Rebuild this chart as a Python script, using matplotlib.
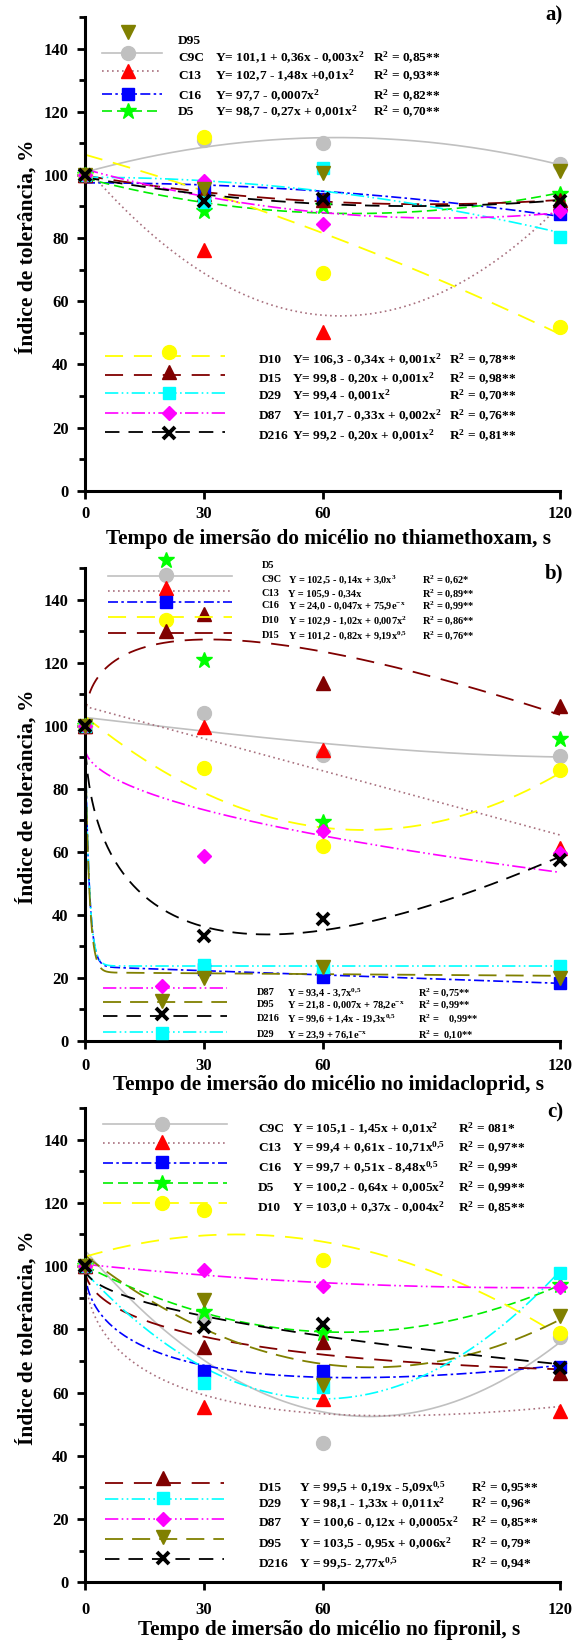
import numpy as np
import matplotlib
matplotlib.use('Agg')
import matplotlib.pyplot as plt
from matplotlib.lines import Line2D
from matplotlib.ticker import MultipleLocator

plt.rcParams['font.family'] = ['Liberation Serif', 'DejaVu Serif']
plt.rcParams['font.weight'] = 'bold'
plt.rcParams['mathtext.fontset'] = 'custom'
plt.rcParams['mathtext.rm'] = 'Liberation Serif:bold'
plt.rcParams['mathtext.it'] = 'Liberation Serif:bold'
plt.rcParams['mathtext.bf'] = 'Liberation Serif:bold'
plt.rcParams['mathtext.default'] = 'rm'

# ---------------- data ----------------
times = [0, 30, 60, 120]

# a) thiamethoxam
a_C9C = [100, 111.0, 110.1, 103.5]
a_C13 = [100, 76.1, 50.2, 91.2]
a_C16 = [100, 96.0, 92.5, 87.5]
a_D5 = [100, 88.5, 90.0, 94.0]
a_D10 = [100, 112.0, 68.8, 51.7]
a_D15 = [100, 94.0, 92.0, 92.0]
a_D29 = [100, 91.5, 102.2, 80.3]
a_D87 = [100, 98.0, 84.5, 88.6]
a_D95 = [100, 95.4, 100.6, 101.2]
a_D216 = [100, 91.7, 92.4, 91.7]

# b) imidacloprid
b_C9C = [100, 104.1, 90.7, 90.4]
b_C13 = [100, 99.7, 92.1, 61.1]
b_C16 = [100, 22.6, 20.3, 18.4]
b_D5 = [100, 120.9, 69.5, 95.8]
b_D10 = [100, 86.5, 61.8, 85.9]
b_D15 = [100, 135.5, 113.6, 106.3]
b_D29 = [100, 24.0, 23.5, 23.6]
b_D87 = [100, 58.6, 66.7, 59.6]
b_D95 = [100, 19.8, 23.5, 19.8]
b_D216 = [100, 33.3, 38.5, 57.4]

# c) fipronil
c_C9C = [100, 83.6, 43.9, 77.6]
c_C13 = [100, 55.3, 58.1, 54.2]
c_C16 = [100, 66.9, 66.9, 68.0]
c_D5 = [100, 85.5, 79.0, 94.0]
c_D10 = [100, 117.6, 101.8, 78.9]
c_D15 = [100, 74.4, 76.0, 66.2]
c_D29 = [100, 62.9, 61.8, 97.8]
c_D87 = [100, 98.7, 93.6, 93.4]
c_D95 = [100, 89.2, 62.3, 84.2]
c_D216 = [100, 80.8, 81.8, 67.9]

# regression model terms per isolate (None = markers only)
a_models = {'C9C': ('1', 'x', 'x2'), 'C13': ('1', 'x', 'x2'), 'C16': ('1', 'x2'),
            'D5': ('1', 'x', 'x2'), 'D10': ('1', 'x', 'x2'), 'D15': ('1', 'x', 'x2'),
            'D29': ('1', 'x2'), 'D87': ('1', 'x', 'x2'), 'D95': None,
            'D216': ('1', 'x', 'x2')}
b_models = {'C9C': ('1', 'x', 'x3'), 'C13': ('1', 'x'), 'C16': ('1', 'x', 'exp'),
            'D5': None, 'D10': ('1', 'x', 'x2'), 'D15': ('1', 'x', 'sqrt'),
            'D29': ('1', 'exp'), 'D87': ('1', 'sqrt'), 'D95': ('1', 'x', 'exp'),
            'D216': ('1', 'x', 'sqrt')}
c_models = {'C9C': ('1', 'x', 'x2'), 'C13': ('1', 'x', 'sqrt'), 'C16': ('1', 'x', 'sqrt'),
            'D5': ('1', 'x', 'x2'), 'D10': ('1', 'x', 'x2'), 'D15': ('1', 'x', 'sqrt'),
            'D29': ('1', 'x', 'x2'), 'D87': ('1', 'x', 'x2'), 'D95': ('1', 'x', 'x2'),
            'D216': ('1', 'sqrt')}

isolates = ['C9C', 'C13', 'C16', 'D5', 'D10', 'D15', 'D29', 'D87', 'D95', 'D216']
a_vals = dict(zip(isolates, [a_C9C, a_C13, a_C16, a_D5, a_D10, a_D15, a_D29, a_D87, a_D95, a_D216]))
b_vals = dict(zip(isolates, [b_C9C, b_C13, b_C16, b_D5, b_D10, b_D15, b_D29, b_D87, b_D95, b_D216]))
c_vals = dict(zip(isolates, [c_C9C, c_C13, c_C16, c_D5, c_D10, c_D15, c_D29, c_D87, c_D95, c_D216]))

# legend texts
a_leg_top = [('D95', '', ''),
             ('C9C', 'Y= 101,1 + 0,36x - 0,003x$^2$', 'R$^2$ = 0,85**'),
             ('C13', 'Y= 102,7 - 1,48x +0,01x$^2$', 'R$^2$ = 0,93**'),
             ('C16', 'Y= 97,7 - 0,0007x$^2$', 'R$^2$ = 0,82**'),
             ('D5', 'Y= 98,7 - 0,27x + 0,001x$^2$', 'R$^2$ = 0,70**')]
a_leg_bot = [('D10', 'Y= 106,3 - 0,34x + 0,001x$^2$', 'R$^2$ = 0,78**'),
             ('D15', 'Y= 99,8 - 0,20x + 0,001x$^2$', 'R$^2$ = 0,98**'),
             ('D29', 'Y= 99,4 - 0,001x$^2$', 'R$^2$ = 0,70**'),
             ('D87', 'Y= 101,7 - 0,33x + 0,002x$^2$', 'R$^2$ = 0,76**'),
             ('D216', 'Y= 99,2 - 0,20x + 0,001x$^2$', 'R$^2$ = 0,81**')]
b_leg_top = [('D5', '', ''),
             ('C9C', 'Y = 102,5 - 0,14x + 3,0x$^3$', 'R$^2$ = 0,62*'),
             ('C13', 'Y = 105,9 - 0,34x', 'R$^2$ = 0,89**'),
             ('C16', 'Y = 24,0 - 0,047x + 75,9e$^{-x}$', 'R$^2$ = 0,99**'),
             ('D10', 'Y = 102,9 - 1,02x + 0,007x$^2$', 'R$^2$ = 0,86**'),
             ('D15', 'Y = 101,2 - 0,82x + 9,19x$^{0{,}5}$', 'R$^2$ = 0,76**')]
b_leg_bot = [('D87', 'Y = 93,4 - 3,7x$^{0{,}5}$', 'R$^2$ = 0,75**'),
             ('D95', 'Y = 21,8 - 0,007x + 78,2e$^{-x}$', 'R$^2$ = 0,99**'),
             ('D216', 'Y = 99,6 + 1,4x - 19,3x$^{0{,}5}$', 'R$^2$ =    0,99**'),
             ('D29', 'Y = 23,9 + 76,1e$^{-x}$', 'R$^2$ =  0,10**')]
c_leg_top = [('C9C', 'Y = 105,1 - 1,45x + 0,01x$^2$', 'R$^2$ = 081*'),
             ('C13', 'Y = 99,4 + 0,61x - 10,71x$^{0{,}5}$', 'R$^2$ = 0,97**'),
             ('C16', 'Y = 99,7 + 0,51x - 8,48x$^{0{,}5}$', 'R$^2$ = 0,99*'),
             ('D5', 'Y = 100,2 - 0,64x + 0,005x$^2$', 'R$^2$ = 0,99**'),
             ('D10', 'Y = 103,0 + 0,37x - 0,004x$^2$', 'R$^2$ = 0,85**')]
c_leg_bot = [('D15', 'Y = 99,5 + 0,19x - 5,09x$^{0{,}5}$', 'R$^2$ = 0,95**'),
             ('D29', 'Y = 98,1 - 1,33x + 0,011x$^2$', 'R$^2$ = 0,96*'),
             ('D87', 'Y = 100,6 - 0,12x + 0,0005x$^2$', 'R$^2$ = 0,85**'),
             ('D95', 'Y = 103,5 - 0,95x + 0,006x$^2$', 'R$^2$ = 0,79*'),
             ('D216', 'Y = 99,5- 2,77x$^{0{,}5}$', 'R$^2$ = 0,94*')]

xlabels = ['Tempo de imersão do micélio no thiamethoxam, s',
           'Tempo de imersão do micélio no imidacloprid, s',
           'Tempo de imersão do micélio no fipronil, s']
ylabel = 'Índice de tolerância, %'
panel_tags = ['a)', 'b)', 'c)']

# ---------------- styles ----------------
line_style = {
    'C9C': dict(color='#c0c0c0', ls='-', lw=1.2),
    'C13': dict(color='#a8707e', ls=(0, (1, 2)), lw=1.2),
    'C16': dict(color='#0000ff', ls=(0, (6, 2, 1.5, 2)), lw=1.2),
    'D5': dict(color='#00ee00', ls=(0, (6, 3)), lw=1.2),
    'D10': dict(color='#ffff00', ls=(0, (10, 6)), lw=1.3),
    'D15': dict(color='#800000', ls=(0, (10, 6)), lw=1.3),
    'D29': dict(color='#00ffff', ls=(0, (8, 2, 1, 2, 1, 2)), lw=1.2),
    'D87': dict(color='#ff00ff', ls=(0, (8, 2, 1, 2, 1, 2)), lw=1.2),
    'D95': dict(color='#808000', ls=(0, (10, 5)), lw=1.3),
    'D216': dict(color='#000000', ls=(0, (8, 5)), lw=1.3),
}
marker_style = {
    'C9C': dict(marker='o', ms=10, mfc='#c0c0c0', mec='#c0c0c0'),
    'C13': dict(marker='^', ms=10, mfc='#ff0000', mec='#ff0000'),
    'C16': dict(marker='s', ms=8.5, mfc='#0000ff', mec='#0000ff'),
    'D5': dict(marker='*', ms=12, mfc='#00ff00', mec='#00ff00'),
    'D10': dict(marker='o', ms=10, mfc='#ffff00', mec='#ffff00'),
    'D15': dict(marker='^', ms=10, mfc='#800000', mec='#800000'),
    'D29': dict(marker='s', ms=8.5, mfc='#00ffff', mec='#00ffff'),
    'D87': dict(marker='D', ms=7, mfc='#ff00ff', mec='#ff00ff'),
    'D95': dict(marker='v', ms=10, mfc='#808000', mec='#808000'),
    'D216': dict(marker='x', ms=8.5, mec='#000000', mew=2.8),
}

W, H = 579, 1642
fig = plt.figure(figsize=(W / 100, H / 100), dpi=100)


def fx(px):
    return px / W


def fy(py):
    return 1 - py / H


def basis(terms, x):
    cols = {'1': np.ones_like(x), 'x': x, 'x2': x ** 2, 'x3': x ** 3,
            'sqrt': np.sqrt(x), 'exp': np.exp(-x)}
    return np.column_stack([cols[t] for t in terms])


def fitted(terms, xs, ys, xx):
    A = basis(terms, np.asarray(xs, float))
    coef, *_ = np.linalg.lstsq(A, np.asarray(ys, float), rcond=None)
    return basis(terms, xx) @ coef


# axes boxes in pixels: (top, bottom)
boxes = [(17, 490.7), (568, 1040.7), (1108, 1582.3)]
left_px, right_px = 85, 560
xtick_pad = [5.5, 7, 9]
tag_y = [15, 573, 1112]
xlabel_y = [539, 1085, 1630]

panels = [(a_vals, a_models), (b_vals, b_models), (c_vals, c_models)]
xx = np.linspace(0, 120, 2401)

axes = []
for i, (vals, models) in enumerate(panels):
    top, bot = boxes[i]
    ax = fig.add_axes([fx(left_px), fy(bot), fx(right_px) - fx(left_px), (bot - top) / H])
    axes.append(ax)
    for name in isolates:
        terms = models[name]
        if terms is not None:
            ax.plot(xx, fitted(terms, times, vals[name], xx), **line_style[name],
                    clip_on=False, zorder=2)
    for name in isolates:
        ax.plot(times, vals[name], ls='none', **marker_style[name], clip_on=False, zorder=3)
    ax.set_xlim(0, 120)
    ax.set_ylim(0, 150)
    ax.set_xticks([0, 30, 60, 120])
    ax.set_yticks(np.arange(0, 141, 20))
    ax.yaxis.set_minor_locator(MultipleLocator(10))
    for s in ['top', 'right']:
        ax.spines[s].set_visible(False)
    for s in ['left', 'bottom']:
        ax.spines[s].set_linewidth(2.2)
    ax.tick_params(axis='both', which='major', direction='out', length=5.8, width=2,
                   labelsize=12)
    ax.tick_params(axis='y', which='minor', direction='out', length=4.5, width=2)
    ax.tick_params(axis='y', which='major', pad=6)
    ax.tick_params(axis='x', which='major', pad=xtick_pad[i], length=5.5)
    for lab in ax.get_xticklabels() + ax.get_yticklabels():
        lab.set_fontweight('bold')
    ax.set_ylabel(ylabel, fontsize=15.5, fontweight='bold')
    ax.yaxis.set_label_coords(-0.10, 0.515)
    fig.text(fx(329), fy(xlabel_y[i]), xlabels[i],
             ha='center', va='center', fontsize=15.3, fontweight='bold')
    fig.text(fx(563), fy(tag_y[i]), panel_tags[i], ha='right', va='center',
             fontsize=15, fontweight='bold')


def draw_legend(rows, layout):
    x0, x1, xm = layout['line_x']
    xn, xe, xr = layout['text_x']
    fs = layout['fs']
    off = 0.33 * fs * 100 / 72
    for (name, eq, r2), ly, my, ty in zip(rows, layout['line_y'], layout['mark_y'], layout['text_y']):
        if eq:
            fig.add_artist(Line2D([fx(x0), fx(x1)], [fy(ly), fy(ly)], **line_style[name]))
        fig.add_artist(Line2D([fx(xm)], [fy(my)], ls='none', **marker_style[name]))
        base = fy(ty + off)
        fig.text(fx(xn), base, name, fontsize=fs, fontweight='bold', va='baseline')
        if eq:
            fig.text(fx(xe), base, eq, fontsize=fs, fontweight='bold', va='baseline')
            fig.text(fx(xr), base, r2, fontsize=fs, fontweight='bold', va='baseline')


draw_legend(a_leg_top, dict(line_x=(102, 162, 128), text_x=(178, 215, 373), fs=9.6,
                            line_y=[32, 53, 71, 94, 111], mark_y=[32, 53, 71, 94, 111],
                            text_y=[40, 57, 75, 95, 111]))
draw_legend(a_leg_bot, dict(line_x=(105, 225, 169), text_x=(259, 292, 449), fs=9.6,
                            line_y=[356, 375, 393, 413, 432], mark_y=[352, 372, 393, 413, 433],
                            text_y=[359, 378, 395, 415, 435]))
draw_legend(b_leg_top, dict(line_x=(108, 232, 166), text_x=(262, 288, 422), fs=7.5,
                            line_y=[560, 576, 591, 602, 617, 633], mark_y=[560, 575, 588, 602, 620, 631],
                            text_y=[565, 579, 593, 605, 620, 635]))
draw_legend(b_leg_bot, dict(line_x=(103, 227, 162), text_x=(257, 287, 418), fs=7.5,
                            line_y=[988, 1002, 1016, 1032], mark_y=[986, 1001, 1014, 1033],
                            text_y=[992, 1004, 1018, 1034]))
draw_legend(c_leg_top, dict(line_x=(103, 227, 162), text_x=(258, 292, 458), fs=9.6,
                            line_y=[1124, 1143, 1163, 1183, 1203], mark_y=[1124, 1142, 1162, 1183, 1203],
                            text_y=[1128, 1147, 1167, 1187, 1207]))
draw_legend(c_leg_bot, dict(line_x=(105, 224, 163), text_x=(259, 299, 471), fs=9.6,
                            line_y=[1483, 1499, 1519, 1539, 1559], mark_y=[1478, 1498, 1519, 1537, 1558],
                            text_y=[1487, 1503, 1522, 1543, 1563]))

fig.savefig('out.png', dpi=100)
